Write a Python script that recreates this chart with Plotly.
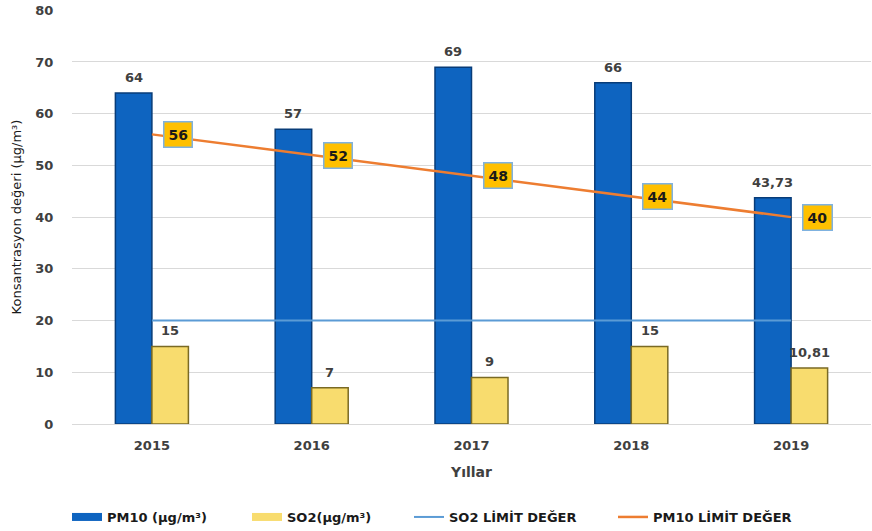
import plotly.graph_objects as go

years = ["2015", "2016", "2017", "2018", "2019"]
pm10 = [64, 57, 69, 66, 43.73]
so2 = [15, 7, 9, 15, 10.81]
so2_limit = [20, 20, 20, 20, 20]
pm10_limit = [56, 52, 48, 44, 40]
y_ticks = [0, 10, 20, 30, 40, 50, 60, 70, 80]

def fmt(v):
    return f"{v:g}".replace(".", ",")

FONT = "DejaVu Sans"
TXT = "#404040"
BLUE = "#0E64C0"
YELLOW = "#F8DC6E"
BARGAP = 0.543
half = (1 - BARGAP) / 4  # offset of each bar centre from the category centre

fig = go.Figure()
fig.add_trace(go.Bar(
    x=years, y=pm10, name="PM10 (µg/m³)", showlegend=False,
    marker=dict(color=BLUE, line=dict(color="#083C78", width=1.5)),
))
fig.add_trace(go.Bar(
    x=years, y=so2, name="SO2(µg/m³)", showlegend=False,
    marker=dict(color=YELLOW, line=dict(color="#7A6A24", width=1.5)),
))
fig.add_trace(go.Scatter(
    x=years, y=so2_limit, name="SO2 LİMİT DEĞER", mode="lines",
    line=dict(color="#5B9BD5", width=2), legend="legend3",
))
fig.add_trace(go.Scatter(
    x=years, y=pm10_limit, name="PM10 LİMİT DEĞER", mode="lines",
    line=dict(color="#ED7D31", width=2.5), legend="legend4",
))
# legend-only entries drawn as wide bar swatches
fig.add_trace(go.Scatter(
    x=[None], y=[None], name="PM10 (µg/m³)", mode="lines",
    line=dict(color=BLUE, width=8), legend="legend",
))
fig.add_trace(go.Scatter(
    x=[None], y=[None], name="SO2(µg/m³)", mode="lines",
    line=dict(color=YELLOW, width=8), legend="legend2",
))

# bar value labels
for i, (p, s) in enumerate(zip(pm10, so2)):
    for xv, yv in ((i - half, p), (i + half, s)):
        fig.add_annotation(
            x=xv, y=yv, xref="x", yref="y", text=fmt(yv), showarrow=False,
            yanchor="bottom", yshift=6,
            font=dict(family=FONT, size=13, color=TXT, weight="bold"),
        )

# PM10 limit value boxes
for i, yv in enumerate(pm10_limit):
    fig.add_annotation(
        x=i, y=yv, xref="x", yref="y", text=fmt(yv),
        showarrow=False, xshift=26, bgcolor="#FFC000",
        bordercolor="#7FB2E0", borderwidth=1.5, borderpad=4,
        font=dict(family=FONT, size=14, color="#1a1a1a", weight="bold"),
    )

legend_font = dict(family=FONT, size=13, color="#1a1a1a", weight="bold")
def leg(xpx):
    return dict(orientation="h", xref="container", yref="container",
                x=xpx / 872, xanchor="left", y=1 - 517 / 531, yanchor="middle",
                font=legend_font, bgcolor="rgba(0,0,0,0)")

fig.update_layout(
    width=872, height=531,
    margin=dict(l=72, r=1, t=10, b=107),
    paper_bgcolor="white", plot_bgcolor="white",
    barmode="group", bargap=BARGAP, bargroupgap=0,
    font=dict(family=FONT, size=13, color=TXT),
    showlegend=True,
    legend=leg(67), legend2=leg(247), legend3=leg(409), legend4=leg(613),
)
fig.update_xaxes(
    type="category", categoryorder="array", categoryarray=years,
    range=[-0.5, 4.5], showgrid=False, showline=False, automargin=False,
    ticks="outside", ticklen=9, tickcolor="rgba(0,0,0,0)",
    tickfont=dict(family=FONT, size=13, color=TXT, weight="bold"),
    title=dict(text="Yıllar", font=dict(family=FONT, size=14, color=TXT, weight="bold")),
)
fig.update_yaxes(
    range=[0, 80.05], tickvals=y_ticks, showgrid=True, gridcolor="#D9D9D9", gridwidth=1,
    zeroline=True, zerolinecolor="#D9D9D9", zerolinewidth=1, automargin=True,
    tickfont=dict(family=FONT, size=13, color=TXT, weight="bold"),
    ticks="outside", ticklen=15, tickcolor="rgba(0,0,0,0)",
    title=dict(text="Konsantrasyon değeri (µg/m³)", standoff=10,
               font=dict(family=FONT, size=13, color="#1a1a1a")),
)

fig.write_html("out.html", config={"displayModeBar": False},
               post_script="document.body.style.margin='0';")
